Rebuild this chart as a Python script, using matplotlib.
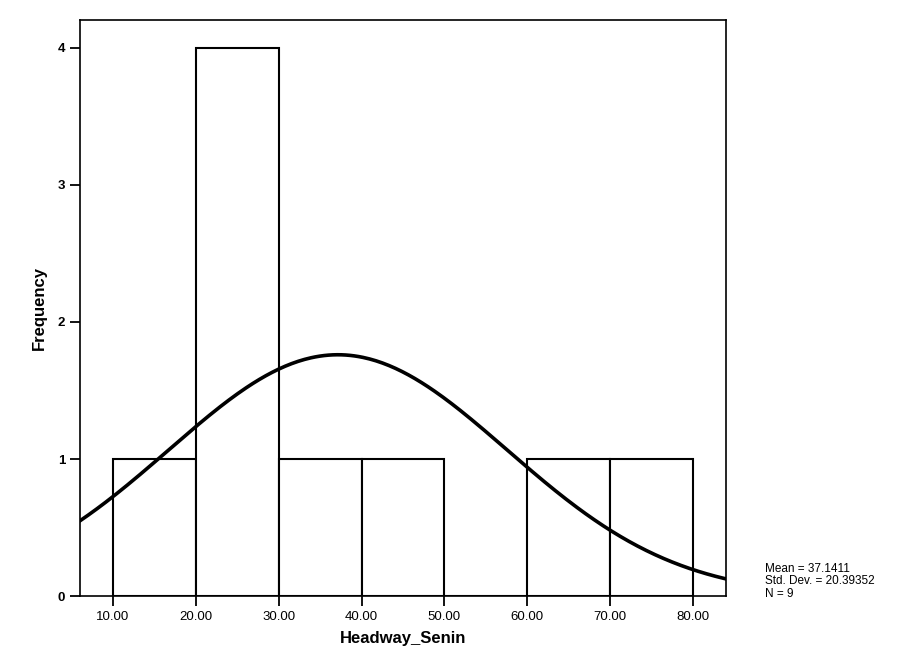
import numpy as np
import matplotlib.pyplot as plt

plt.rcParams['font.family'] = ['Liberation Sans', 'DejaVu Sans']

bin_edges = [10, 20, 30, 40, 50, 60, 70, 80]
counts = [1, 4, 1, 1, 0, 1, 1]
xticks = [10, 20, 30, 40, 50, 60, 70, 80]
yticks = [0, 1, 2, 3, 4]
mean = 37.1411
sd = 20.39352
n = 9

fig = plt.figure(figsize=(9.17, 6.53), dpi=100)
ax = fig.add_axes([0.087, 0.087, 0.705, 0.882])

lefts = bin_edges[:-1]
widths = np.diff(bin_edges)
ax.bar(lefts, counts, width=widths, align='edge', facecolor='white',
       edgecolor='black', linewidth=1.5)

# normal curve scaled to counts
xs = np.linspace(6, 84, 300)
ys = n * 10 / (sd * np.sqrt(2 * np.pi)) * np.exp(-0.5 * ((xs - mean) / sd) ** 2)
ax.plot(xs, ys, color='black', linewidth=2.6)

ax.set_xlim(6, 84)
ax.set_ylim(0, 4.2)
ax.set_xticks(xticks)
ax.set_xticklabels([f'{v:.2f}' for v in xticks], fontsize=9.5)
ax.set_yticks(yticks)
ax.set_yticklabels([str(v) for v in yticks], fontsize=9.5, fontweight='bold')
ax.tick_params(direction='out', length=7, width=1.3)
for s in ax.spines.values():
    s.set_linewidth(1.2)

ax.set_xlabel('Headway_Senin', fontsize=12, fontweight='bold', labelpad=6)
ax.set_ylabel('Frequency', fontsize=12, fontweight='bold', labelpad=8)

fig.text(0.834, 0.11, f'Mean = {mean}\nStd. Dev. = {sd}\nN = {n}',
         fontsize=8.5, va='center', ha='left', linespacing=1.05)

fig.savefig('out.png', dpi=100)
